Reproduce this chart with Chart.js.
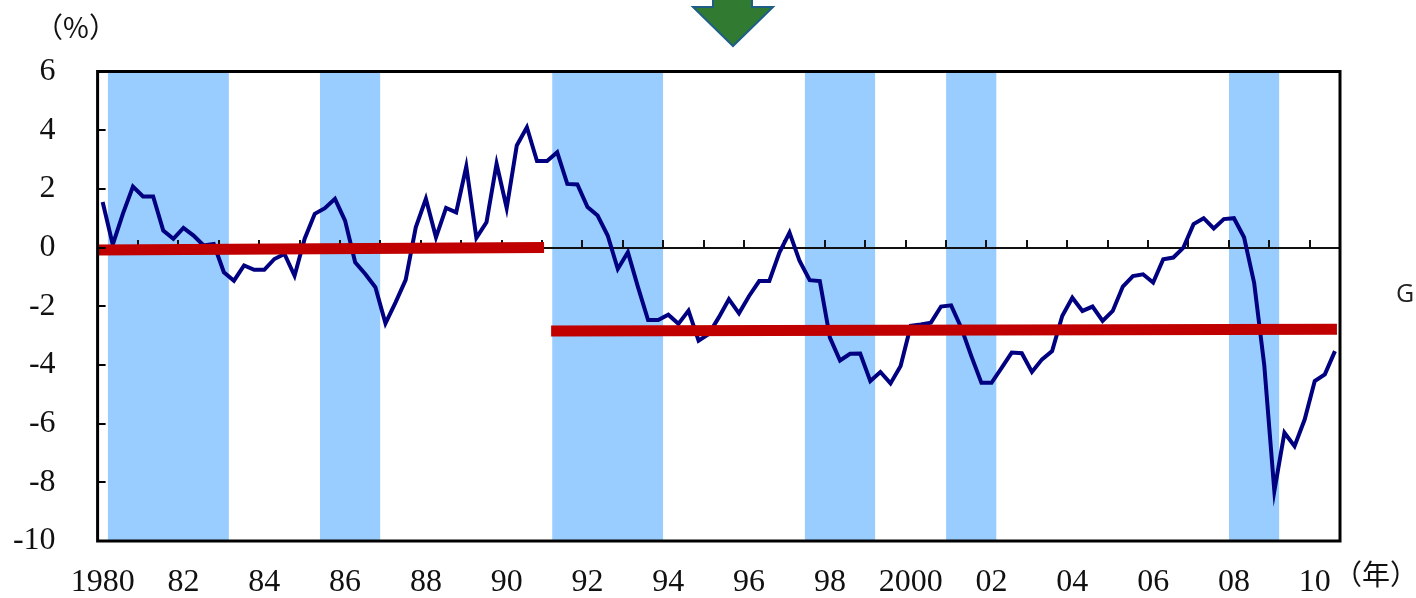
<!DOCTYPE html>
<html>
<head>
<meta charset="utf-8">
<script src="https://cdn.jsdelivr.net/npm/chart.js@4.4.1/dist/chart.umd.min.js"></script>
<style>
  html, body { margin: 0; padding: 0; background: #fff; }
</style>
</head>
<body>
<canvas id="gap" width="1416" height="598"></canvas>
<script>
// quarterly output gap, 1980Q1 - 2010Q3 (x = quarters since 1980Q1)
const quarterCount = 123
const yearTicks = ['1980', '82', '84', '86', '88', '90', '92', '94', '96', '98',
  '2000', '02', '04', '06', '08', '10']

const gapValues = [
  1.55, 0.1, 1.15, 2.08, 1.74, 1.74, 0.58, 0.3, 0.67, 0.41,
  0.07, 0.12, -0.84, -1.13, -0.61, -0.76, -0.76, -0.39, -0.22, -0.96,
  0.3, 1.15, 1.34, 1.66, 0.92, -0.5, -0.9, -1.35, -2.58, -1.87,
  -1.1, 0.69, 1.66, 0.35, 1.35, 1.2, 2.76, 0.33, 0.86, 2.86,
  1.35, 3.48, 4.1, 2.95, 2.95, 3.25, 2.17, 2.15, 1.38, 1.09,
  0.41, -0.73, -0.16, -1.35, -2.47, -2.47, -2.29, -2.6, -2.15, -3.17,
  -2.95, -2.38, -1.76, -2.24, -1.65, -1.14, -1.14, -0.17, 0.51, -0.46,
  -1.11, -1.14, -3.07, -3.85, -3.62, -3.61, -4.55, -4.24, -4.63, -4.04,
  -2.67, -2.62, -2.56, -2.01, -1.97, -2.73, -3.7, -4.61, -4.61, -4.1,
  -3.58, -3.6, -4.24, -3.81, -3.53, -2.33, -1.71, -2.16, -2.01, -2.5,
  -2.16, -1.33, -0.97, -0.91, -1.19, -0.4, -0.34, 0.0, 0.8, 1.0,
  0.65, 0.97, 1.0, 0.35, -1.2, -4.0, -8.3, -6.31, -6.77, -5.86,
  -4.55, -4.32, -3.53
]

// recession periods, [first quarter, last quarter]
const recessions = [[1, 12], [22, 27], [45, 55], [70, 76], [84, 88], [112, 116]]

// average level lines
const avgEarly = [{ x: -0.5, y: -0.08 }, { x: 43.7, y: 0.0 }]
const avgLate = [{ x: 44.4, y: -2.84 }, { x: 122.2, y: -2.78 }]

const yMin = -10
const yMax = 6

const tickFont = { family: "'Liberation Serif', serif", size: 32, lineHeight: 1.2 }

const bandSets = recessions.map(([a, b]) => ({
  data: [{ x: a - 0.5, y: yMax }, { x: b + 0.5, y: yMax }],
  borderColor: '#99ccff',
  backgroundColor: '#99ccff',
  borderWidth: 1,
  pointRadius: 0,
  fill: { value: yMin },
  order: 3,
}))

const decor = {
  id: 'decor',
  beforeDatasetDraw(chart, args) {
    if (args.index !== 0) return
    // zero line with year ticks, under the gap line
    const { ctx, chartArea } = chart
    const xs = chart.scales.x
    const y0 = Math.round(chart.scales.y.getPixelForValue(0))
    ctx.save()
    ctx.strokeStyle = '#111'
    ctx.lineWidth = 2
    ctx.beginPath()
    ctx.moveTo(chartArea.left, y0)
    ctx.lineTo(chartArea.right, y0)
    for (let q = 4; q < quarterCount; q += 4) {
      const x = Math.round(xs.getPixelForValue(q - 0.5))
      ctx.moveTo(x, y0)
      ctx.lineTo(x, y0 - 8)
    }
    ctx.stroke()
    ctx.restore()
  },
  afterDraw(chart) {
    const { ctx, chartArea } = chart
    const ys = chart.scales.y
    ctx.save()
    ctx.strokeStyle = '#000'
    ctx.lineWidth = 3
    ctx.strokeRect(chartArea.left, chartArea.top, chartArea.right - chartArea.left, chartArea.bottom - chartArea.top)
    ctx.lineWidth = 2
    ctx.beginPath()
    ys.ticks.forEach(t => {
      const y = Math.round(ys.getPixelForValue(t.value))
      ctx.moveTo(chartArea.left, y)
      ctx.lineTo(chartArea.left + 8, y)
    })
    ctx.stroke()

    ctx.fillStyle = '#111'
    ctx.font = "28px 'Noto Sans CJK JP'"
    ctx.textBaseline = 'middle'
    ctx.textAlign = 'center'
    ctx.fillText('（%）', 76, 27)
    ctx.textAlign = 'left'
    ctx.fillText('（年）', chartArea.right - 6, 574)

    ctx.font = "25px 'Open Sans'"
    ctx.fillStyle = '#222'
    ctx.fillText('G', 1396, 295)

    // down arrow
    ctx.beginPath()
    ctx.moveTo(713, -2)
    ctx.lineTo(752, -2)
    ctx.lineTo(752, 7)
    ctx.lineTo(773, 7)
    ctx.lineTo(733, 46)
    ctx.lineTo(693, 7)
    ctx.lineTo(713, 7)
    ctx.closePath()
    ctx.fillStyle = '#317a31'
    ctx.fill()
    ctx.strokeStyle = '#1f5f86'
    ctx.lineWidth = 2
    ctx.stroke()
    ctx.restore()
  }
}

new Chart(document.getElementById('gap'), {
  type: 'line',
  data: {
    datasets: [
      {
        data: gapValues.map((v, i) => ({ x: i, y: v })),
        borderColor: '#000080',
        borderWidth: 4,
        pointRadius: 0,
        tension: 0,
        order: 1,
      },
      {
        data: avgEarly,
        borderColor: '#c00000',
        borderWidth: 11,
        borderCapStyle: 'butt',
        pointRadius: 0,
        order: 0,
      },
      {
        data: avgLate,
        borderColor: '#c00000',
        borderWidth: 11,
        borderCapStyle: 'butt',
        pointRadius: 0,
        order: 0,
      },
      ...bandSets,
    ],
  },
  options: {
    responsive: false,
    animation: false,
    devicePixelRatio: 1,
    layout: { padding: { top: 71.5, right: 76, left: 0, bottom: 0 } },
    plugins: { legend: { display: false }, tooltip: { enabled: false } },
    scales: {
      x: {
        type: 'linear',
        min: -0.5,
        max: quarterCount - 0.5,
        grid: { display: false },
        border: { display: false },
        afterBuildTicks: s => { s.ticks = yearTicks.map((_, i) => ({ value: i * 8 })) },
        ticks: {
          autoSkip: false,
          maxRotation: 0,
          padding: 14,
          color: '#111',
          font: tickFont,
          callback: v => yearTicks[v / 8] ?? '',
        },
        afterFit: s => { s.height = 57 },
      },
      y: {
        min: yMin,
        max: yMax,
        grid: { display: false },
        border: { display: false },
        ticks: { stepSize: 2, padding: 34, color: '#111', font: tickFont },
        afterFit: s => { s.width = 97.6 },
      },
    },
  },
  plugins: [decor],
})
</script>
</body>
</html>
